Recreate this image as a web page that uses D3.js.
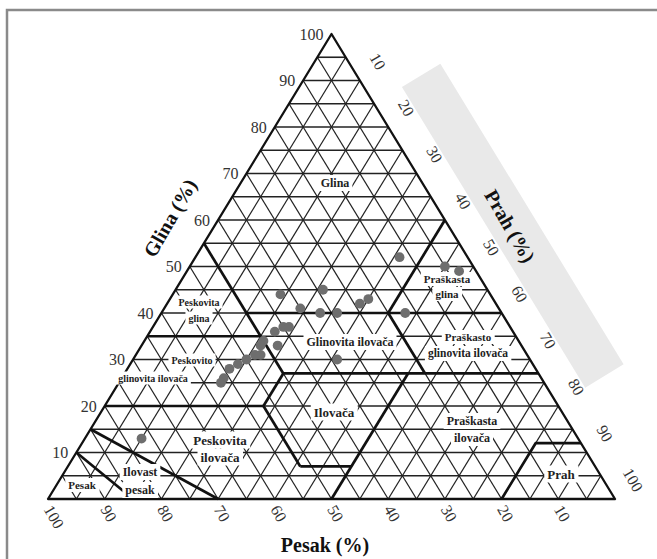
<!DOCTYPE html>
<html><head><meta charset="utf-8">
<script src="https://cdn.jsdelivr.net/npm/d3@7"></script>
<style>html,body{margin:0;padding:0;background:#fff;} svg{display:block;}</style>
</head><body>
<svg id="chart" width="657" height="559"></svg>
<script>
// ---------- data ----------
const ticks = [10, 20, 30, 40, 50, 60, 70, 80, 90, 100];
const gridSteps = [5,10,15,20,25,30,35,40,45,50,55,60,65,70,75,80,85,90,95];

// samples: Pesak (sand), Prah (silt), Glina (clay) in %
const samplePesak = [12, 5, 3, 37, 29, 35, 32, 29, 24, 22, 17, 40, 42, 45, 46, 43, 47, 50, 52, 54, 56, 57, 34, 77, 39, 48];
const samplePrah  = [36, 45, 48, 19, 26, 24, 28, 31, 34, 35, 43, 23, 22, 21, 21, 24, 22, 20, 19, 18, 18, 18, 36, 10, 24, 21];
const sampleGlina = [52, 50, 49, 44, 45, 41, 40, 40, 42, 43, 40, 37, 36, 34, 33, 33, 31, 30, 29, 28, 26, 25, 30, 13, 37, 31];

// texture class boundaries, vertices as [pesak, prah, glina]
const boundaries = [
  [[45,0,55],[45,28,27]],
  [[65,0,35],[45,20,35]],
  [[45,15,40],[0,60,40]],
  [[20,40,40],[0,40,60]],
  [[20,40,40],[20,53,27]],
  [[45,28,27],[0,73,27]],
  [[45,28,27],[52,28,20]],
  [[80,0,20],[52,28,20]],
  [[52,28,20],[52,41,7]],
  [[52,41,7],[43,50,7]],
  [[23,50,27],[50,50,0]],
  [[85,0,15],[70,30,0]],
  [[90,0,10],[85,15,0]],
  [[20,80,0],[8,80,12],[0,88,12]]
];

const classLabels = ["Glina","Praškasta","glina","Peskovita","glina","Glinovita ilovača",
  "Praškasto","glinovita ilovača","Peskovito","glinovita ilovača","Ilovača",
  "Praškasta","ilovača","Peskovita","ilovača","Ilovast","pesak","Pesak","Prah"];

// ---------- layout ----------
const labelLayout = [
  {x:335,y:183,fs:12},{x:447,y:279,fs:11},{x:447,y:294,fs:11},{x:199,y:302,fs:10},{x:199,y:318,fs:10},
  {x:350,y:342,fs:12},{x:468,y:337,fs:11},{x:468,y:353,fs:11.5},{x:192,y:360,fs:10},{x:153,y:378,fs:10},
  {x:334,y:412,fs:13},{x:472,y:421,fs:12},{x:472,y:438,fs:12},{x:220,y:440,fs:13},{x:220,y:457,fs:13},
  {x:140,y:472,fs:12},{x:140,y:490,fs:12},{x:82,y:485,fs:11},{x:561,y:474,fs:13}
];
const SERIF = "'Liberation Serif','Times New Roman',serif";
const X0 = 48, X1 = 615, YB = 499, YT = 34;

const svg = d3.select("#chart");
const xS = d3.scaleLinear().domain([0,100]).range([X0, X1]);
const yS = d3.scaleLinear().domain([0,100]).range([YB, YT]);
const pt = (p) => [xS(p[1] + p[2]/2), yS(p[2])];
const line = d3.line();

// frame
svg.append("rect").attr("x",7).attr("y",10).attr("width",700).attr("height",600)
  .attr("fill","none").attr("stroke","#8a8a8a").attr("stroke-width",2.5);

// gray band along right edge
{
  const A = pt([0,0,100]), R = pt([0,100,0]);
  const L = Math.hypot(R[0]-A[0], R[1]-A[1]);
  const u = [(R[0]-A[0])/L, (R[1]-A[1])/L], n = [u[1], -u[0]];
  const P = (a, b) => [A[0]+u[0]*a+n[0]*b, A[1]+u[1]*a+n[1]*b];
  svg.append("path").attr("d", line([P(82,32.5),P(82,77.5),P(434,77.5),P(434,32.5)]) + "Z")
    .attr("fill","#e9e9e9");
}

// grid
const g = svg.append("g").attr("stroke","#222").attr("fill","none");
gridSteps.forEach(v => {
  g.append("path").attr("d", line([pt([100-v,0,v]), pt([0,100-v,v])])).attr("stroke-width",1.6);
  g.append("path").attr("d", line([pt([v,100-v,0]), pt([v,0,100-v])])).attr("stroke-width",1.25);
  g.append("path").attr("d", line([pt([100-v,v,0]), pt([0,v,100-v])])).attr("stroke-width",1.25);
});

// class boundaries
svg.append("g").selectAll("path").data(boundaries).join("path")
  .attr("d", d => line(d.map(pt))).attr("fill","none").attr("stroke","#111")
  .attr("stroke-width",2.7).attr("stroke-linejoin","round");

// triangle outline
svg.append("path").attr("d", line([pt([100,0,0]), pt([0,0,100]), pt([0,100,0])]) + "Z")
  .attr("fill","none").attr("stroke","#111").attr("stroke-width",2.3).attr("stroke-linejoin","round");

// class labels with white background
const lg = svg.append("g");
classLabels.forEach((t, i) => {
  const L = labelLayout[i];
  const bg = lg.append("rect").attr("fill","#fff");
  const tx = lg.append("text").attr("x",L.x).attr("y",L.y).attr("text-anchor","middle")
    .attr("dominant-baseline","central").attr("font-family",SERIF).attr("font-weight","bold")
    .attr("font-size",L.fs).attr("fill","#222").text(t);
  const b = tx.node().getBBox();
  bg.attr("x",b.x-3).attr("y",b.y-1).attr("width",b.width+6).attr("height",b.height+2);
});

// samples
svg.append("g").selectAll("circle").data(d3.range(samplePesak.length)).join("circle")
  .attr("cx", i => pt([samplePesak[i], samplePrah[i], sampleGlina[i]])[0])
  .attr("cy", i => pt([samplePesak[i], samplePrah[i], sampleGlina[i]])[1])
  .attr("r", 4.9).attr("fill","#6e6e6e");

// tick labels
const tk = svg.append("g").attr("font-family",SERIF).attr("font-size",16).attr("fill","#333");
ticks.forEach(v => {
  const c = pt([100-v,0,v]);
  tk.append("text").attr("x",c[0]-8).attr("y",c[1]).attr("text-anchor","end")
    .attr("dominant-baseline","central").text(v);
  const s = pt([v,100-v,0]);
  tk.append("text").attr("transform",`translate(${s[0]},${s[1]+7.5}) rotate(60)`)
    .attr("text-anchor","start").attr("dominant-baseline","central").text(v);
  const p = pt([0,v,100-v]);
  tk.append("text").attr("transform",`translate(${p[0]+18},${p[1]-19}) rotate(60)`)
    .attr("text-anchor","middle").attr("dominant-baseline","central").text(v);
});

// axis titles
const at = svg.append("g").attr("font-family",SERIF).attr("font-weight","bold")
  .attr("font-size",20).attr("fill","#111").attr("text-anchor","middle").attr("dominant-baseline","central");
at.append("text").attr("x",325).attr("y",545).text("Pesak (%)");
at.append("text").attr("transform","translate(170,218) rotate(-60)").text("Glina (%)");
at.append("text").attr("transform","translate(510,226) rotate(60)").text("Prah (%)");
</script>
</body></html>
